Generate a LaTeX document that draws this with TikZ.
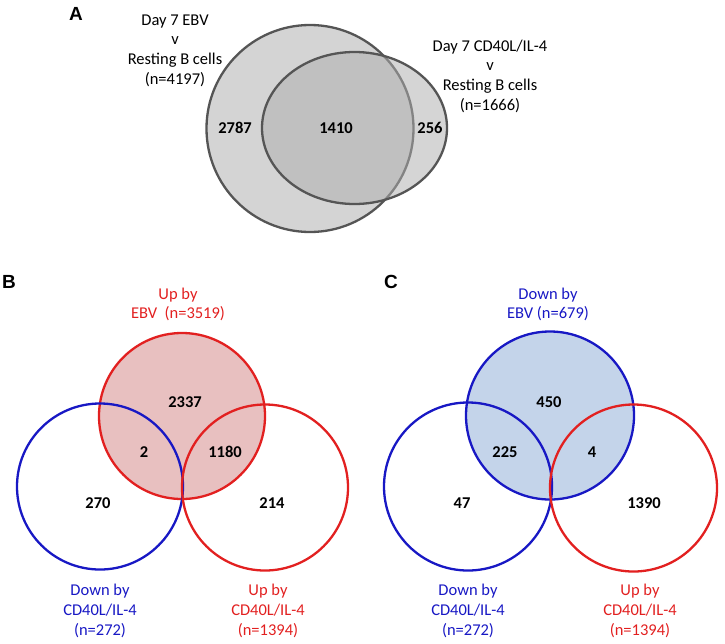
\documentclass[tikz,border=0pt]{standalone}
\usepackage{fontspec}
\setmainfont{Carlito}
\newfontfamily\panelfont{Liberation Sans}
\usetikzlibrary{positioning}

\definecolor{upred}{RGB}{226,32,32}
\definecolor{downblue}{RGB}{24,24,196}
\definecolor{uppink}{RGB}{232,192,192}
\definecolor{downfill}{RGB}{196,212,234}
\definecolor{setgray}{RGB}{212,212,212}
\definecolor{midgray}{RGB}{174,174,174}
\definecolor{edgegray}{RGB}{85,85,85}

\begin{document}
\begin{tikzpicture}[x=1pt, y=-1pt,
    every node/.style={inner sep=0pt, font=\fontsize{16.5}{19.7}\selectfont},
    setlabel/.style={align=center},
    count/.style={font=\fontsize{16.5}{19.7}\selectfont\bfseries},
    panel/.style={font=\panelfont\fontsize{19}{19}\selectfont\bfseries},
    ring/.style={line width=2.3pt},
    greyring/.style={line width=2.3pt, draw=edgegray}
]
\useasboundingbox (0,0) rectangle (725,643);

% A: EBV v resting and CD40L/IL-4 v resting
\node[panel] (lblA) at (76,14) {A};
\coordinate (ebvA) at (310,128.5);
\coordinate (cdA) at (354.5,128);
\fill[setgray] (ebvA) circle[radius=103.5];
\draw[greyring] (ebvA) circle[radius=103.5];
\fill[midgray, fill opacity=.52] (cdA) ellipse[x radius=92.5, y radius=76];
\draw[greyring] (cdA) ellipse[x radius=92.5, y radius=76];
\node[setlabel] (ebvlblA) at (175,50.5) {Day 7 EBV\\v\\Resting B cells\\(n=4197)};
\node[setlabel] (cdlblA) at (490,76) {Day 7 CD40L/IL-4\\v\\Resting B cells\\(n=1666)};
\node[count] (onlyEbvA) at (235,128) {2787};
\node[count] (bothA) at (336,128) {1410};
\node[count] (onlyCdA) at (430,128) {256};

% B: up by EBV
\node[panel] (lblB) at (9,282) {B};
\coordinate (upEbvB) at (182,416);
\coordinate (downCdB) at (100,486.5);
\coordinate (upCdB) at (265,487.5);
\fill[uppink] (upEbvB) circle[radius=83];
\draw[ring, upred] (upEbvB) circle[radius=83];
\draw[ring, downblue] (downCdB) circle[radius=83];
\draw[ring, upred] (upCdB) circle[radius=83];
\node[setlabel, text=upred] (upEbvlblB) at (178,304.5) {Up by\\EBV\ \ (n=3519)};
\node[setlabel, text=downblue] (downCdlblB) at (100,611) {Down by\\CD40L/IL-4\\(n=272)};
\node[setlabel, text=upred] (upCdlblB) at (268,611) {Up by\\CD40L/IL-4\\(n=1394)};
\node[count] (n2337) at (185,402) {2337};
\node[count] (n2) at (144,452) {2};
\node[count] (n1180) at (225,452) {1180};
\node[count] (n270) at (98,503) {270};
\node[count] (n214) at (272,503) {214};

% C: down by EBV
\node[panel] (lblC) at (391,282) {C};
\coordinate (downEbvC) at (550,415.5);
\coordinate (downCdC) at (468,486.5);
\coordinate (upCdC) at (633.5,488);
\fill[downfill] (downEbvC) circle[radius=84];
\draw[ring, downblue] (downEbvC) circle[radius=84];
\draw[ring, downblue] (downCdC) circle[radius=84];
\draw[ring, upred] (upCdC) circle[radius=83.5];
\node[setlabel, text=downblue] (downEbvlblC) at (548,304.5) {Down by\\EBV (n=679)};
\node[setlabel, text=downblue] (downCdlblC) at (468,611) {Down by\\CD40L/IL-4\\(n=272)};
\node[setlabel, text=upred] (upCdlblC) at (640,611) {Up by\\CD40L/IL-4\\(n=1394)};
\node[count] (n450) at (549,402) {450};
\node[count] (n225) at (505,452) {225};
\node[count] (n4) at (592,452) {4};
\node[count] (n47) at (462,503) {47};
\node[count] (n1390) at (644,503) {1390};
\end{tikzpicture}
\end{document}
